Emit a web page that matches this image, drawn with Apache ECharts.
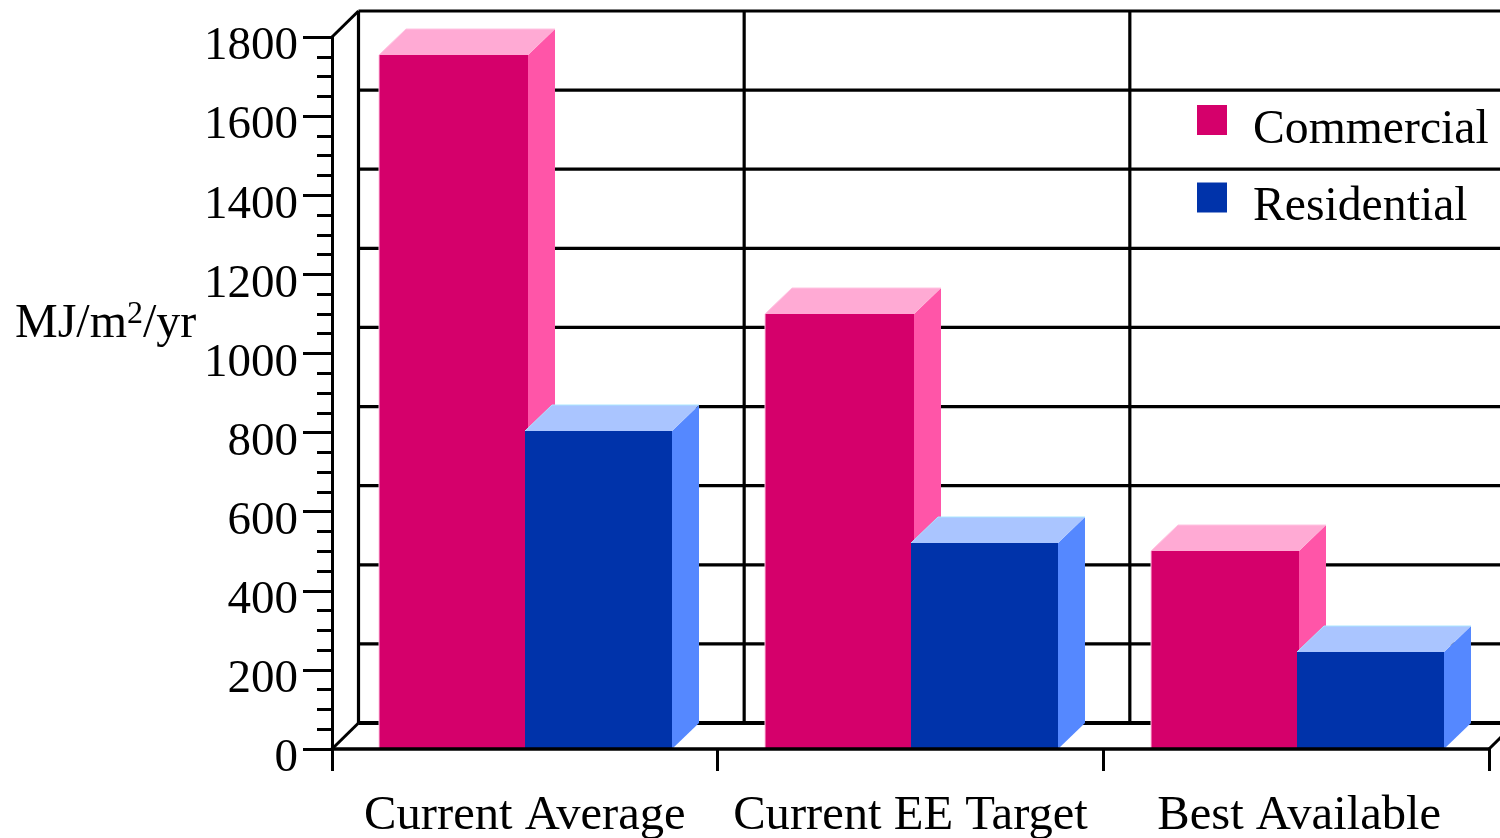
<!DOCTYPE html>
<html>
<head>
<meta charset="utf-8">
<title>Energy intensity by building type</title>
<style>
  html, body { margin: 0; padding: 0; background: #fff; }
  #chart { width: 1500px; height: 838px; }
</style>
<script src="https://cdn.jsdelivr.net/npm/echarts@6/dist/echarts.min.js"></script>
</head>
<body>
<div id="chart"></div>
<script>
// Annual energy use per floor area, by performance level
const categories = ['Current Average', 'Current EE Target', 'Best Available'];
const commercial = [1755, 1100, 500];
const residential = [805, 520, 245];
const wallTicks = [0, 200, 400, 600, 800, 1000, 1200, 1400, 1600, 1800];
const seriesNames = ['Commercial', 'Residential'];

// Oblique projection of the back wall relative to the front plane
const DEPTH_X = 27;
const DEPTH_Y = -26;
const WALL_X = 26.5;
const FONT = '"Liberation Serif", "Times New Roman", serif';

const chart = echarts.init(document.getElementById('chart'), null, { renderer: 'canvas' });

const faces = {
  pink: { front: '#D5006B', side: '#FF55A8', top: '#FFAAD4', edge: '#FFC4E2', fullEdge: true },
  blue: { front: '#0033AA', side: '#5588FF', top: '#AAC5FF', edge: '#AAE6FF', fullEdge: false }
};

// One extruded box: front, side and top faces plus a light bevel edge
function boxRenderer(palette, leftOffset, rightOffset) {
  return function (params, api) {
    const idx = api.value(0);
    const base = api.coord([idx, 0]);
    const head = api.coord([idx, api.value(1)]);
    const x0 = Math.round(base[0] + leftOffset);
    const x1 = Math.round(base[0] + rightOffset);
    const y0 = Math.round(base[1]);
    const y1 = Math.round(head[1]);
    const poly = (points, fill) => ({
      type: 'polygon',
      shape: { points },
      style: { fill, stroke: null }
    });
    const bevel = [[x0, y1], [x0 + DEPTH_X, y1 + DEPTH_Y], [x1 + DEPTH_X, y1 + DEPTH_Y]];
    if (palette.fullEdge) {
      bevel.unshift([x0, y0]);
    }
    return {
      type: 'group',
      children: [
        poly([[x1, y0], [x1 + DEPTH_X, y0 + DEPTH_Y], [x1 + DEPTH_X, y1 + DEPTH_Y], [x1, y1]], palette.side),
        poly([[x0, y1], [x0 + DEPTH_X, y1 + DEPTH_Y], [x1 + DEPTH_X, y1 + DEPTH_Y], [x1, y1]], palette.top),
        poly([[x0, y0], [x1, y0], [x1, y1], [x0, y1]], palette.front),
        {
          type: 'polyline',
          shape: { points: bevel },
          style: { fill: null, stroke: palette.edge, lineWidth: 1 }
        }
      ]
    };
  };
}

// Back wall rules and the receding edges of the chart box
function wallRenderer(params, api) {
  const cs = params.coordSys;
  const value = api.value(0);
  const y = api.coord([0, value])[1];
  const line = (x1, y1, x2, y2, width) => ({
    type: 'line',
    shape: { x1, y1, x2, y2 },
    style: { stroke: '#000', lineWidth: width, lineCap: 'butt' }
  });
  const left = cs.x;
  const right = cs.x + cs.width;
  const width = value === 0 ? 4.2 : 3.2;
  const children = [line(left + WALL_X, y + DEPTH_Y, right + WALL_X, y + DEPTH_Y, width)];
  if (value === 0) {
    const floorY = y + DEPTH_Y;
    const ceilY = api.coord([0, wallTicks[wallTicks.length - 1]])[1] + DEPTH_Y;
    categories.forEach((_, i) => {
      const x = left + WALL_X + i * cs.width / categories.length;
      children.push(line(x, floorY, x, ceilY, 3.2));
    });
    children.push(line(left, y, left + WALL_X, floorY, 3));
    children.push(line(right, y, right + WALL_X, floorY, 3));
  }
  if (value === wallTicks[wallTicks.length - 1]) {
    children.push(line(left, y, left + WALL_X, y + DEPTH_Y, 3));
  }
  return { type: 'group', children };
}

chart.setOption({
  animation: false,
  backgroundColor: '#fff',
  title: {
    text: 'MJ/m{sup|2}/yr',
    left: 15,
    top: 299,
    padding: 0,
    textStyle: {
      fontFamily: FONT,
      fontSize: 48,
      fontWeight: 'normal',
      color: '#000',
      rich: {
        sup: { fontFamily: FONT, fontSize: 32, color: '#000', padding: [0, 0, 18, 0] }
      }
    }
  },
  legend: {
    orient: 'vertical',
    left: 1197,
    top: 86,
    padding: 0,
    data: seriesNames,
    icon: 'rect',
    itemWidth: 30,
    itemHeight: 30,
    itemGap: 9.5,
    selectedMode: false,
    formatter: name => `{t|${name}}`,
    textStyle: {
      rich: {
        t: {
          fontFamily: FONT,
          fontSize: 47.7,
          color: '#000',
          lineHeight: 48,
          padding: [20, 0, 0, 21]
        }
      }
    }
  },
  grid: { left: 332, top: 37, width: 1157, height: 712, containLabel: false, outerBoundsMode: 'none' },
  xAxis: {
    type: 'category',
    data: categories,
    z: 10,
    axisLine: { lineStyle: { color: '#000', width: 3.5 } },
    axisTick: { show: true, length: 22, lineStyle: { color: '#000', width: 3 } },
    axisLabel: {
      interval: 0,
      margin: 43,
      formatter: (value, index) => (index === categories.length - 1 ? `{nudged|${value}}` : `{plain|${value}}`),
      rich: {
        plain: { fontFamily: FONT, fontSize: 48.6, color: '#000' },
        nudged: { fontFamily: FONT, fontSize: 48.6, color: '#000', padding: [0, 0, 0, 6] }
      }
    }
  },
  yAxis: {
    type: 'value',
    min: 0,
    max: 1800,
    interval: 200,
    z: 10,
    splitLine: { show: false },
    axisLine: { show: true, lineStyle: { color: '#000', width: 3 } },
    axisTick: { show: true, length: 29, lineStyle: { color: '#000', width: 3 } },
    minorTick: { show: true, splitNumber: 4, length: 15, lineStyle: { color: '#000', width: 3 } },
    minorSplitLine: { show: false },
    axisLabel: {
      margin: 34,
      formatter: value => `{n|${value}}`,
      rich: {
        n: { fontFamily: FONT, fontSize: 47, color: '#000', padding: [20, 0, 0, 0] }
      }
    }
  },
  series: [
    {
      type: 'custom',
      name: 'wall',
      z: 1,
      silent: true,
      clip: false,
      encode: { y: 0 },
      data: wallTicks.map(v => [v]),
      renderItem: wallRenderer
    },
    {
      type: 'custom',
      name: seriesNames[0],
      z: 2,
      clip: false,
      itemStyle: { color: faces.pink.front },
      encode: { x: 0, y: 1 },
      data: commercial.map((v, i) => [i, v]),
      renderItem: boxRenderer(faces.pink, -145.5, 3)
    },
    {
      type: 'custom',
      name: seriesNames[1],
      z: 3,
      clip: false,
      itemStyle: { color: faces.blue.front },
      encode: { x: 0, y: 1 },
      data: residential.map((v, i) => [i, v]),
      renderItem: boxRenderer(faces.blue, 0.5, 147.5)
    }
  ]
});
</script>
</body>
</html>
